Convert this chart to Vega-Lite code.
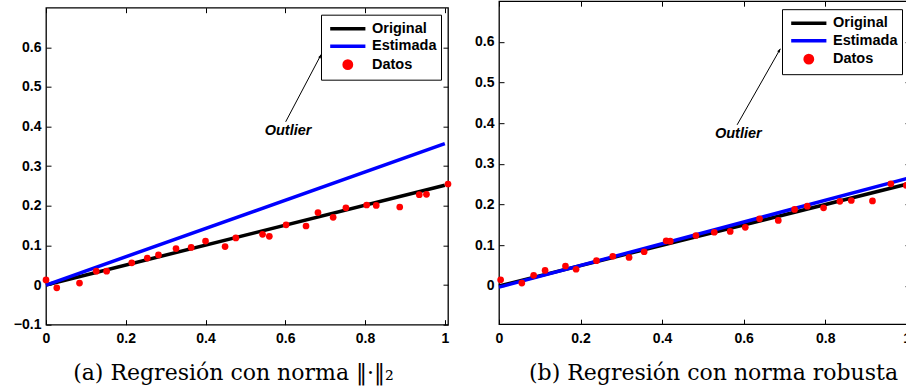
{
  "$schema": "https://vega.github.io/schema/vega-lite/v6.json",
  "padding": {"left": 12, "top": 0, "right": 0, "bottom": 0},
  "autosize": {"type": "pad"},
  "background": "white",
  "datasets": {
    "lines_a": [
      {"x": 0, "y": 0, "s": "Original"}, {"x": 1, "y": 0.252, "s": "Original"},
      {"x": 0, "y": 0, "s": "Estimada"}, {"x": 1, "y": 0.357, "s": "Estimada"}
    ],
    "pts_a": [
      {"x": 0.0, "y": 0.013, "s": "Datos"}, {"x": 0.027, "y": -0.007, "s": "Datos"},
      {"x": 0.084, "y": 0.005, "s": "Datos"}, {"x": 0.126, "y": 0.035, "s": "Datos"},
      {"x": 0.152, "y": 0.035, "s": "Datos"}, {"x": 0.215, "y": 0.056, "s": "Datos"},
      {"x": 0.254, "y": 0.068, "s": "Datos"}, {"x": 0.282, "y": 0.076, "s": "Datos"},
      {"x": 0.326, "y": 0.092, "s": "Datos"}, {"x": 0.364, "y": 0.095, "s": "Datos"},
      {"x": 0.4, "y": 0.111, "s": "Datos"}, {"x": 0.449, "y": 0.097, "s": "Datos"},
      {"x": 0.476, "y": 0.119, "s": "Datos"}, {"x": 0.543, "y": 0.128, "s": "Datos"},
      {"x": 0.56, "y": 0.123, "s": "Datos"}, {"x": 0.602, "y": 0.152, "s": "Datos"},
      {"x": 0.652, "y": 0.149, "s": "Datos"}, {"x": 0.682, "y": 0.183, "s": "Datos"},
      {"x": 0.72, "y": 0.171, "s": "Datos"}, {"x": 0.752, "y": 0.195, "s": "Datos"},
      {"x": 0.804, "y": 0.202, "s": "Datos"}, {"x": 0.828, "y": 0.201, "s": "Datos"},
      {"x": 0.887, "y": 0.197, "s": "Datos"}, {"x": 0.936, "y": 0.228, "s": "Datos"},
      {"x": 0.954, "y": 0.229, "s": "Datos"}, {"x": 1.008, "y": 0.255, "s": "Datos"}
    ],
    "ann_a": [{"x": 0.607, "y": 0.389, "x1": 0.601, "y1": 0.412, "x2": 0.69, "y2": 0.582, "t": "Outlier"}],
    "lines_b": [
      {"x": 0, "y": 0, "s": "Original"}, {"x": 1, "y": 0.25, "s": "Original"},
      {"x": 0, "y": -0.003, "s": "Estimada"}, {"x": 1.008, "y": 0.266, "s": "Estimada"}
    ],
    "pts_b": [
      {"x": 0.004, "y": 0.015, "s": "Datos"}, {"x": 0.056, "y": 0.007, "s": "Datos"},
      {"x": 0.085, "y": 0.026, "s": "Datos"}, {"x": 0.113, "y": 0.038, "s": "Datos"},
      {"x": 0.163, "y": 0.049, "s": "Datos"}, {"x": 0.189, "y": 0.041, "s": "Datos"},
      {"x": 0.239, "y": 0.062, "s": "Datos"}, {"x": 0.279, "y": 0.073, "s": "Datos"},
      {"x": 0.319, "y": 0.07, "s": "Datos"}, {"x": 0.356, "y": 0.084, "s": "Datos"},
      {"x": 0.41, "y": 0.111, "s": "Datos"}, {"x": 0.42, "y": 0.11, "s": "Datos"},
      {"x": 0.483, "y": 0.124, "s": "Datos"}, {"x": 0.528, "y": 0.132, "s": "Datos"},
      {"x": 0.567, "y": 0.134, "s": "Datos"}, {"x": 0.604, "y": 0.144, "s": "Datos"},
      {"x": 0.639, "y": 0.165, "s": "Datos"}, {"x": 0.685, "y": 0.161, "s": "Datos"},
      {"x": 0.725, "y": 0.188, "s": "Datos"}, {"x": 0.756, "y": 0.196, "s": "Datos"},
      {"x": 0.796, "y": 0.192, "s": "Datos"}, {"x": 0.836, "y": 0.208, "s": "Datos"},
      {"x": 0.864, "y": 0.21, "s": "Datos"}, {"x": 0.916, "y": 0.209, "s": "Datos"},
      {"x": 0.961, "y": 0.251, "s": "Datos"}, {"x": 0.999, "y": 0.247, "s": "Datos"}
    ],
    "ann_b": [{"x": 0.587, "y": 0.374, "x1": 0.584, "y1": 0.396, "x2": 0.69, "y2": 0.583, "t": "Outlier"}]
  },
  "resolve": {"scale": {"color": "independent"}, "legend": {"color": "independent"}},
  "spacing": 20,
  "center": true,
  "hconcat": [
    {
      "width": 402,
      "height": 317,
      "title": {"text": " ", "fontSize": 6, "offset": 0},
      "resolve": {"axis": {"x": "independent", "y": "independent"}},
      "layer": [
        {
          "data": {"name": "lines_a"},
          "transform": [{"filter": "datum.s === 'Original'"}],
          "mark": {"type": "line", "strokeWidth": 3.5},
          "encoding": {
            "x": {"field": "x", "type": "quantitative", "scale": {"domain": [0, 1.008], "nice": false, "zero": false},
              "axis": {"orient": "bottom", "values": [0, 0.2, 0.4, 0.6, 0.8, 1], "format": ".1~f", "labelPadding": 12, "labelFlush": false,
                "title": "(a) Regresión con norma ‖·‖₂", "titleFont": "DejaVu Serif", "titleFontSize": 22, "titleFontWeight": "normal", "titleColor": "#000",
                "titleX": 187, "titleY": 55, "titleAlign": "center", "titleBaseline": "alphabetic"}},
            "y": {"field": "y", "type": "quantitative", "scale": {"domain": [-0.1, 0.7], "nice": false, "zero": false},
              "axis": {"orient": "left", "values": [-0.1, 0, 0.1, 0.2, 0.3, 0.4, 0.5, 0.6], "format": ".1~f", "labelPadding": 10, "labelFlush": false, "title": null}},
            "color": {"field": "s", "type": "nominal",
              "scale": {"domain": ["Original", "Estimada", "Datos"], "range": ["#000000", "#0000ff", "#ff0000"]},
              "legend": {"orient": "top-right", "offset": 7, "title": null, "strokeColor": "#000", "fillColor": "#fff", "padding": 4, "rowPadding": 0.5,
                "symbolSize": 256, "labelFont": "Liberation Sans", "labelFontWeight": "bold", "labelFontSize": 14.5, "labelColor": "#000", "labelOffset": 27,
                "encoding": {"symbols": {
                  "shape": {"value": {"expr": "datum.value === 'Datos' ? 'M1.14,0A0.46,0.46 0 1,1 2.06,0A0.46,0.46 0 1,1 1.14,0Z' : 'M-0.6,0H3.8'"}},
                  "fill": {"value": {"expr": "datum.value === 'Datos' ? '#ff0000' : 'transparent'"}},
                  "stroke": {"value": {"expr": "datum.value === 'Datos' ? 'transparent' : (datum.value === 'Original' ? '#000000' : '#0000ff')"}},
                  "strokeWidth": {"value": 3.5},
                  "size": {"value": 256},
                  "opacity": {"value": 1}
                }}}}
          }
        },
        {
          "data": {"name": "lines_a"},
          "transform": [{"filter": "datum.s === 'Estimada'"}],
          "mark": {"type": "line", "strokeWidth": 3.5},
          "encoding": {
            "x": {"field": "x", "type": "quantitative", "axis": {"orient": "top", "values": [0, 0.2, 0.4, 0.6, 0.8, 1], "labels": false, "title": null}},
            "y": {"field": "y", "type": "quantitative", "axis": {"orient": "right", "values": [-0.1, 0, 0.1, 0.2, 0.3, 0.4, 0.5, 0.6], "labels": false, "title": null}},
            "color": {"field": "s", "type": "nominal"}
          }
        },
        {
          "data": {"name": "pts_a"},
          "mark": {"type": "point", "filled": true, "size": 45, "opacity": 1},
          "encoding": {
            "x": {"field": "x", "type": "quantitative", "axis": null},
            "y": {"field": "y", "type": "quantitative", "axis": null},
            "color": {"field": "s", "type": "nominal"}
          }
        },
        {
          "data": {"name": "ann_a"},
          "mark": {"type": "rule", "color": "#000", "strokeWidth": 1},
          "encoding": {
            "x": {"field": "x1", "type": "quantitative", "axis": null},
            "y": {"field": "y1", "type": "quantitative", "axis": null},
            "x2": {"field": "x2"}, "y2": {"field": "y2"}
          }
        },
        {
          "data": {"name": "ann_a"},
          "mark": {"type": "point", "shape": "M0,0L-0.45,1.2L0.45,1.2Z", "filled": true, "color": "#000", "size": 40, "opacity": 1, "angle": 27},
          "encoding": {
            "x": {"field": "x2", "type": "quantitative", "axis": null},
            "y": {"field": "y2", "type": "quantitative", "axis": null}
          }
        },
        {
          "data": {"name": "ann_a"},
          "mark": {"type": "text", "font": "Liberation Sans", "fontWeight": "bold", "fontStyle": "italic", "fontSize": 14.5, "color": "#000", "align": "center", "baseline": "middle"},
          "encoding": {
            "x": {"field": "x", "type": "quantitative", "axis": null},
            "y": {"field": "y", "type": "quantitative", "axis": null},
            "text": {"field": "t"}
          }
        }
      ]
    },
    {
      "width": 411,
      "height": 323,
      "resolve": {"axis": {"x": "independent", "y": "independent"}},
      "layer": [
        {
          "data": {"name": "lines_b"},
          "transform": [{"filter": "datum.s === 'Original'"}],
          "mark": {"type": "line", "strokeWidth": 3.5},
          "encoding": {
            "x": {"field": "x", "type": "quantitative", "scale": {"domain": [0, 1.008], "nice": false, "zero": false},
              "axis": {"orient": "bottom", "values": [0, 0.2, 0.4, 0.6, 0.8, 1], "format": ".1~f", "labelPadding": 12, "labelFlush": false,
                "title": ["(b) Regresión con norma robusta", " "], "titleLineHeight": 7, "titleFont": "DejaVu Serif", "titleFontSize": 22, "titleFontWeight": "normal", "titleColor": "#000",
                "titleX": 214, "titleY": 55, "titleAlign": "center", "titleBaseline": "alphabetic"}},
            "y": {"field": "y", "type": "quantitative", "scale": {"domain": [-0.094, 0.7], "nice": false, "zero": false},
              "axis": {"orient": "left", "values": [0, 0.1, 0.2, 0.3, 0.4, 0.5, 0.6], "format": ".1~f", "labelPadding": 10, "labelFlush": false, "title": null}},
            "color": {"field": "s", "type": "nominal",
              "scale": {"domain": ["Original", "Estimada", "Datos"], "range": ["#000000", "#0000ff", "#ff0000"]},
              "legend": {"orient": "top-right", "offset": 8, "title": null, "strokeColor": "#000", "fillColor": "#fff", "padding": 4, "rowPadding": 0.5,
                "symbolSize": 256, "labelFont": "Liberation Sans", "labelFontWeight": "bold", "labelFontSize": 14.5, "labelColor": "#000", "labelOffset": 27,
                "encoding": {"symbols": {
                  "shape": {"value": {"expr": "datum.value === 'Datos' ? 'M1.14,0A0.46,0.46 0 1,1 2.06,0A0.46,0.46 0 1,1 1.14,0Z' : 'M-0.6,0H3.8'"}},
                  "fill": {"value": {"expr": "datum.value === 'Datos' ? '#ff0000' : 'transparent'"}},
                  "stroke": {"value": {"expr": "datum.value === 'Datos' ? 'transparent' : (datum.value === 'Original' ? '#000000' : '#0000ff')"}},
                  "strokeWidth": {"value": 3.5},
                  "size": {"value": 256},
                  "opacity": {"value": 1}
                }}}}
          }
        },
        {
          "data": {"name": "lines_b"},
          "transform": [{"filter": "datum.s === 'Estimada'"}],
          "mark": {"type": "line", "strokeWidth": 3.5},
          "encoding": {
            "x": {"field": "x", "type": "quantitative", "axis": {"orient": "top", "values": [0, 0.2, 0.4, 0.6, 0.8, 1], "labels": false, "title": null}},
            "y": {"field": "y", "type": "quantitative", "axis": {"orient": "right", "values": [0, 0.1, 0.2, 0.3, 0.4, 0.5, 0.6], "labels": false, "title": null}},
            "color": {"field": "s", "type": "nominal"}
          }
        },
        {
          "data": {"name": "pts_b"},
          "mark": {"type": "point", "filled": true, "size": 45, "opacity": 1},
          "encoding": {
            "x": {"field": "x", "type": "quantitative", "axis": null},
            "y": {"field": "y", "type": "quantitative", "axis": null},
            "color": {"field": "s", "type": "nominal"}
          }
        },
        {
          "data": {"name": "ann_b"},
          "mark": {"type": "rule", "color": "#000", "strokeWidth": 1},
          "encoding": {
            "x": {"field": "x1", "type": "quantitative", "axis": null},
            "y": {"field": "y1", "type": "quantitative", "axis": null},
            "x2": {"field": "x2"}, "y2": {"field": "y2"}
          }
        },
        {
          "data": {"name": "ann_b"},
          "mark": {"type": "point", "shape": "M0,0L-0.45,1.2L0.45,1.2Z", "filled": true, "color": "#000", "size": 40, "opacity": 1, "angle": 30},
          "encoding": {
            "x": {"field": "x2", "type": "quantitative", "axis": null},
            "y": {"field": "y2", "type": "quantitative", "axis": null}
          }
        },
        {
          "data": {"name": "ann_b"},
          "mark": {"type": "text", "font": "Liberation Sans", "fontWeight": "bold", "fontStyle": "italic", "fontSize": 14.5, "color": "#000", "align": "center", "baseline": "middle"},
          "encoding": {
            "x": {"field": "x", "type": "quantitative", "axis": null},
            "y": {"field": "y", "type": "quantitative", "axis": null},
            "text": {"field": "t"}
          }
        }
      ]
    }
  ],
  "config": {
    "view": {"stroke": "#000", "strokeWidth": 1.3},
    "axis": {"labelFont": "Liberation Sans", "labelFontWeight": "bold", "labelFontSize": 14, "labelColor": "#000",
      "tickColor": "#000", "tickSize": -5, "tickWidth": 1, "domain": false, "grid": false}
  }
}
